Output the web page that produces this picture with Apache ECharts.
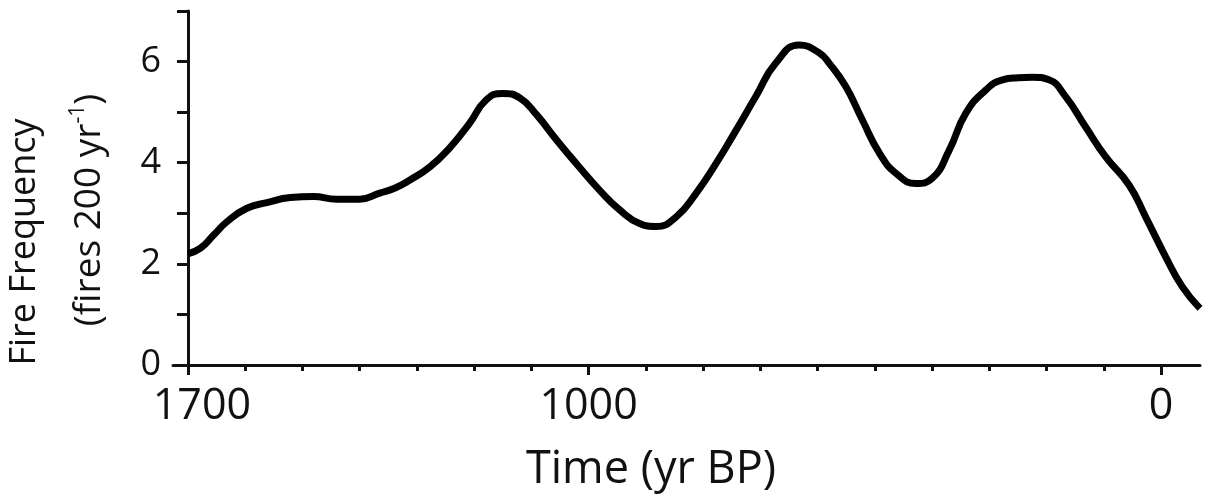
<!DOCTYPE html>
<html>
<head>
<meta charset="utf-8">
<script src="https://cdn.jsdelivr.net/npm/echarts@6/dist/echarts.min.js"></script>
<style>
  html, body { margin: 0; padding: 0; background: #fff; }
  #chart { width: 1214px; height: 498px; }
</style>
</head>
<body>
<div id="chart"></div>
<script>
// time in years BP
var years = [1700, 1678, 1655, 1632, 1597, 1562, 1521, 1481, 1440, 1400, 1365, 1338,
  1312, 1277, 1243, 1208, 1179, 1150, 1120, 1091, 1056, 1022, 981, 946, 911, 882,
  847, 812, 777, 742, 708, 673, 632, 597, 580, 551, 522, 492, 463, 428, 400, 370,
  341, 306, 277, 250, 225, 196, 167, 132, 97, 56, 27, -8, -37, -68];
// fire frequency (fires 200 yr-1)
var freq = [2.2, 2.31, 2.57, 2.83, 3.1, 3.21, 3.31, 3.33, 3.28, 3.28, 3.4, 3.5,
  3.66, 3.92, 4.29, 4.78, 5.24, 5.37, 5.28, 4.95, 4.45, 3.99, 3.46, 3.07, 2.8, 2.74,
  2.93, 3.4, 3.99, 4.65, 5.31, 5.97, 6.33, 6.17, 5.97, 5.51, 4.85, 4.19, 3.79, 3.59, 3.69, 4.25,
  4.98, 5.44, 5.64, 5.68, 5.69, 5.64, 5.31, 4.71, 4.12, 3.56, 2.93, 2.14, 1.55, 1.12];
var minorTicks = [1700, 1600, 1500, 1400, 1300, 1200, 1100, 1000, 900, 800, 700, 600, 500, 400, 300, 200, 100, 0];
var labelTicks = [1700, 1000, 0];

var font = '"Open Sans", "Noto Sans", sans-serif';
var ink = '#111';

var points = [];
for (var i = 0; i < years.length; i++) {
  points.push([years[i], freq[i]]);
}

var xBase = {
  type: 'value',
  inverse: true,
  min: -68,
  max: 1726,
  position: 'bottom',
  splitLine: { show: false }
};

var option = {
  backgroundColor: '#fff',
  animation: false,
  grid: { left: 173, right: 14, top: 11, bottom: 133 },
  xAxis: [
    Object.assign({}, xBase, {
      axisLine: { show: true, onZero: false, lineStyle: { color: ink, width: 3 } },
      axisTick: { show: true, customValues: minorTicks, length: 6, lineStyle: { color: ink, width: 3 } },
      axisLabel: { show: false }
    }),
    Object.assign({}, xBase, {
      axisLine: { show: false, onZero: false },
      axisTick: { show: true, customValues: labelTicks, length: 10, lineStyle: { color: ink, width: 3 } },
      axisLabel: {
        show: true,
        customValues: labelTicks,
        margin: 20,
        color: ink,
        fontFamily: font,
        fontSize: 43,
        formatter: function (v) {
          return v === 1700 ? '{a|1700}' : String(v);
        },
        rich: {
          a: { fontFamily: font, fontSize: 43, color: ink, padding: [0, 0, 0, 28] }
        }
      }
    })
  ],
  yAxis: {
    type: 'value',
    min: 0,
    max: 7,
    interval: 1,
    offset: -15,
    splitLine: { show: false },
    axisLine: { show: true, onZero: false, lineStyle: { color: ink, width: 3 } },
    axisTick: { show: true, length: 11, lineStyle: { color: ink, width: 3 } },
    axisLabel: {
      margin: 27,
      color: ink,
      fontFamily: font,
      fontSize: 36,
      formatter: function (v) {
        return v % 2 === 0 && v < 7 ? String(v) : '';
      }
    }
  },
  graphic: [
    {
      type: 'text',
      x: 25, y: 242,
      rotation: Math.PI / 2,
      style: {
        text: 'Fire Frequency',
        font: '36px ' + font,
        fill: ink,
        align: 'center',
        verticalAlign: 'middle'
      }
    },
    {
      type: 'text',
      x: 89, y: 210,
      rotation: Math.PI / 2,
      style: {
        text: '(fires 200 yr{sup|-1})',
        font: '37px ' + font,
        fill: ink,
        align: 'center',
        verticalAlign: 'middle',
        rich: {
          sup: { fontSize: 21, fontFamily: font, fill: ink, verticalAlign: 'top', lineHeight: 42 }
        }
      }
    },
    {
      type: 'text',
      x: 651, y: 470,
      style: {
        text: 'Time (yr BP)',
        font: '45px ' + font,
        fill: ink,
        align: 'center',
        verticalAlign: 'middle'
      }
    }
  ],
  series: [
    {
      type: 'line',
      xAxisIndex: 0,
      data: points,
      smooth: 0.5,
      showSymbol: false,
      lineStyle: { color: '#000', width: 7 }
    }
  ]
};

echarts.init(document.getElementById('chart')).setOption(option);
</script>
</body>
</html>
